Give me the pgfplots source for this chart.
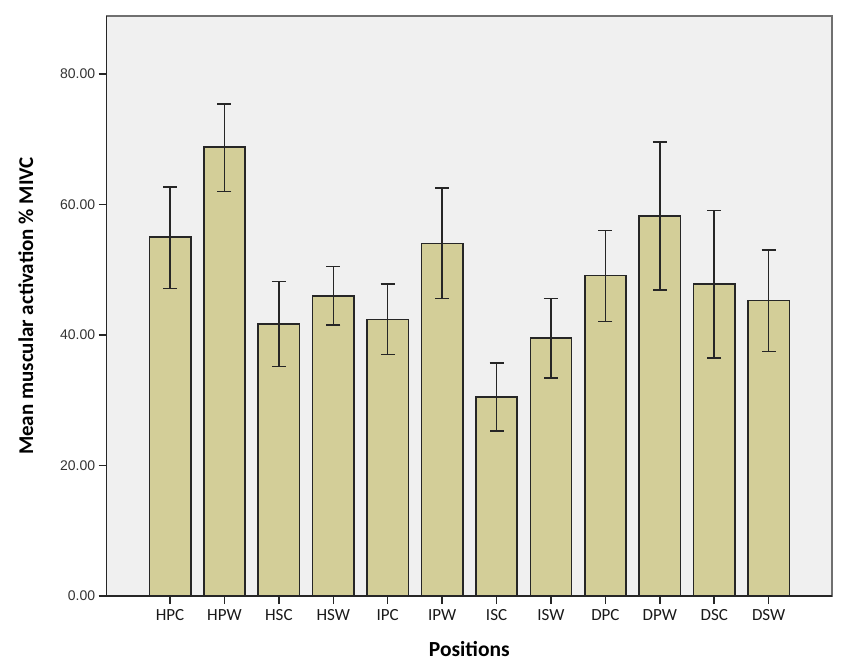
\documentclass[border=0pt]{standalone}
\usepackage{pgfplots}
\pgfplotsset{compat=1.18}
\usepackage{fontspec}
\setmainfont{Carlito}
\newfontfamily\arialf{Liberation Sans}
\definecolor{bggray}{HTML}{F0F0F0}
\definecolor{barfill}{HTML}{D3CE98}
\definecolor{edge}{HTML}{262626}
\definecolor{framegray}{HTML}{707070}
\begin{document}
\begin{tikzpicture}
\useasboundingbox (-106.7pt,-75pt) rectangle (743.3pt,596pt);
\begin{axis}[
  at={(0pt,0pt)}, anchor=south west,
  scale only axis,
  width=725.3pt, height=580pt,
  xmin=-1.164, xmax=12.164,
  ymin=0, ymax=88.9,
  enlargelimits=false,
  axis background/.style={fill=bggray},
  axis line style={draw=framegray, line width=1.6pt},
  xtick={0,...,11},
  xticklabels={HPC,HPW,HSC,HSW,IPC,IPW,ISC,ISW,DPC,DPW,DSC,DSW},
  ytick={0,20,40,60,80},
  yticklabel style={font=\arialf\fontsize{14}{16}\selectfont, text=black!80, /pgf/number format/.cd, fixed, fixed zerofill, precision=2, assume math mode=true},
  xticklabel style={font=\fontsize{17}{19}\selectfont, text=black!90, yshift=-2pt},
  tick align=outside,
  major tick length=8pt,
  tick style={draw=edge, line width=1.5pt},
  xtick pos=bottom, ytick pos=left,
  xlabel={\textbf{Positions}},
  ylabel={\textbf{Mean muscular activation \% MIVC}},
  xlabel style={font=\fontsize{21.5}{24}\selectfont, at={(axis description cs:0.5,-0.105)}, anchor=base},
  ylabel style={font=\fontsize{21}{24}\selectfont, at={(axis description cs:-0.1016,0.5)}, anchor=base, rotate=0},
  clip=false,
]
\addplot[ybar, bar width=0.76, fill=barfill, draw=edge, line width=1.6pt,
  error bars/.cd, y dir=both, y explicit,
  error bar style={draw=edge, line width=1.5pt},
  error mark options={rotate=90, mark size=7pt, line width=1.5pt, draw=edge}]
  table[x=x, y=y, y error plus=ep, y error minus=em] {
x  y     ep    em
0  55.0  7.7   7.9
1  68.8  6.6   6.8
2  41.7  6.5   6.5
3  46.0  4.5   4.5
4  42.4  5.4   5.4
5  54.05 8.45  8.45
6  30.5  5.2   5.2
7  39.5  6.1   6.1
8  49.1  6.9   7.0
9  58.2  11.4  11.3
10 47.8  11.3  11.3
11 45.3  7.7   7.8
};
\draw[edge, line width=1.6pt] (rel axis cs:0,1) -- (rel axis cs:0,0) -- (rel axis cs:1,0);
\end{axis}
\end{tikzpicture}
\end{document}
